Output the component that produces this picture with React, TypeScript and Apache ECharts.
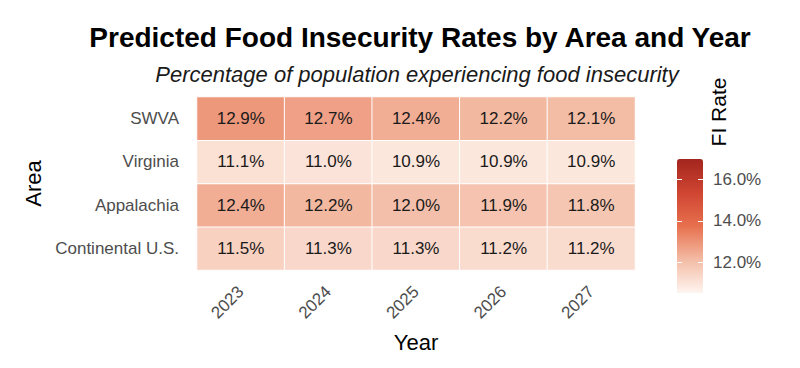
import React, { useEffect, useRef } from "react";
import * as echarts from "echarts";

const years = ["2023", "2024", "2025", "2026", "2027"];
// bottom to top
const areas = ["Continental U.S.", "Appalachia", "Virginia", "SWVA"];
const swva = [12.9, 12.7, 12.4, 12.2, 12.1];
const virginia = [11.1, 11.0, 10.9, 10.9, 10.9];
const appalachia = [12.4, 12.2, 12.0, 11.9, 11.8];
const continental = [11.5, 11.3, 11.3, 11.2, 11.2];
const legendTicks = [12, 14, 16];
const scaleMin = 10.5;
const scaleMax = 17;

const FONT = "'Liberation Sans', Arial, sans-serif";

export default function App() {
  const ref = useRef<HTMLDivElement>(null);
  useEffect(() => {
    if (!ref.current) return;
    const chart = echarts.init(ref.current, undefined, { renderer: "svg" });
    const rows: Record<string, number[]> = {
      "Continental U.S.": continental,
      Appalachia: appalachia,
      Virginia: virginia,
      SWVA: swva,
    };
    const data: [number, number, number][] = [];
    areas.forEach((a, yi) => {
      rows[a].forEach((v, xi) => data.push([xi, yi, v]));
    });
    const barTop = 159;
    const barH = 134;
    const pxPer = barH / (scaleMax - scaleMin);
    const axMin = 10;
    const axMax = 18;
    chart.setOption({
      animation: false,
      backgroundColor: "#ffffff",
      textStyle: { fontFamily: FONT },
      title: [
        {
          text: "Predicted Food Insecurity Rates by Area and Year",
          left: 415,
          top: 18,
          textAlign: "center",
          textStyle: { fontSize: 28, fontWeight: "bold", color: "#000", fontFamily: FONT },
        },
        {
          text: "Percentage of population experiencing food insecurity",
          left: 412,
          top: 58,
          textAlign: "center",
          textStyle: { fontSize: 22, fontStyle: "italic", fontWeight: "normal", color: "#1a1a1a", fontFamily: FONT },
        },
      ],
      grid: [
        { left: 197, right: 165, top: 97, bottom: 98 },
        {
          left: 677,
          width: 26,
          top: barTop - (axMax - scaleMax) * pxPer,
          height: (axMax - axMin) * pxPer,
        },
      ],
      xAxis: [
        {
          type: "category",
          data: years,
          gridIndex: 0,
          axisLine: { show: false },
          axisTick: { show: false },
          splitArea: { show: false },
          axisLabel: { rotate: 45, fontSize: 17, color: "#4d4d4d", margin: 19, fontFamily: FONT },
          name: "Year",
          nameLocation: "middle",
          nameGap: 61,
          nameTextStyle: { fontSize: 22, color: "#000", fontFamily: FONT },
        },
        { type: "value", gridIndex: 1, show: false, min: 0, max: 1 },
      ],
      yAxis: [
        {
          type: "category",
          data: areas,
          gridIndex: 0,
          axisLine: { show: false },
          axisTick: { show: false },
          axisLabel: { fontSize: 17, color: "#4d4d4d", margin: 18, fontFamily: FONT },
          name: "Area",
          nameLocation: "middle",
          nameGap: 148,
          nameRotate: 90,
          nameTextStyle: { fontSize: 22, color: "#000", fontFamily: FONT },
        },
        {
          type: "value",
          gridIndex: 1,
          position: "left",
          min: axMin,
          max: axMax,
          interval: 2,
          z: 10,
          axisLine: { show: false },
          axisTick: { show: true, inside: true, length: 5, lineStyle: { color: "#ffffff", width: 1 } },
          axisLabel: { show: false },
          splitLine: { show: false },
        },
        {
          type: "value",
          gridIndex: 1,
          position: "right",
          min: axMin,
          max: axMax,
          interval: 2,
          z: 10,
          axisLine: { show: false },
          axisTick: { show: true, inside: true, length: 5, lineStyle: { color: "#ffffff", width: 1 } },
          axisLabel: {
            show: true,
            margin: 10,
            fontSize: 17,
            color: "#4d4d4d",
            fontFamily: FONT,
            formatter: (v: number) => (legendTicks.includes(v) ? v.toFixed(1) + "%" : ""),
          },
          splitLine: { show: false },
        },
      ],
      visualMap: {
        type: "continuous",
        min: scaleMin,
        max: scaleMax,
        seriesIndex: 0,
        calculable: false,
        orient: "vertical",
        left: 677,
        top: barTop,
        padding: 0,
        itemWidth: 26,
        itemHeight: barH,
        text: ["", ""],
        showLabel: false,
        inRange: { color: ["#fff5f0", "#f3bba4", "#e7704e", "#cf4532", "#a3251e"] },
      },
      graphic: [
        {
          type: "text",
          x: 718,
          y: 112,
          rotation: Math.PI / 2,
          style: {
            text: "FI Rate",
            fontSize: 21,
            fill: "#000",
            fontFamily: FONT,
            textAlign: "center",
            textVerticalAlign: "middle",
          },
        },
      ],
      series: [
        {
          type: "heatmap",
          xAxisIndex: 0,
          yAxisIndex: 0,
          data,
          itemStyle: { borderColor: "#ffffff", borderWidth: 1 },
          label: {
            show: true,
            fontSize: 17,
            color: "#1a1a1a",
            fontFamily: FONT,
            formatter: (p: any) => p.value[2].toFixed(1) + "%",
          },
          emphasis: { disabled: true },
        },
      ],
    });
    return () => chart.dispose();
  }, []);
  return (
    <div
      ref={ref}
      style={{ position: "fixed", left: 0, top: 0, width: 800, height: 368 }}
    />
  );
}
